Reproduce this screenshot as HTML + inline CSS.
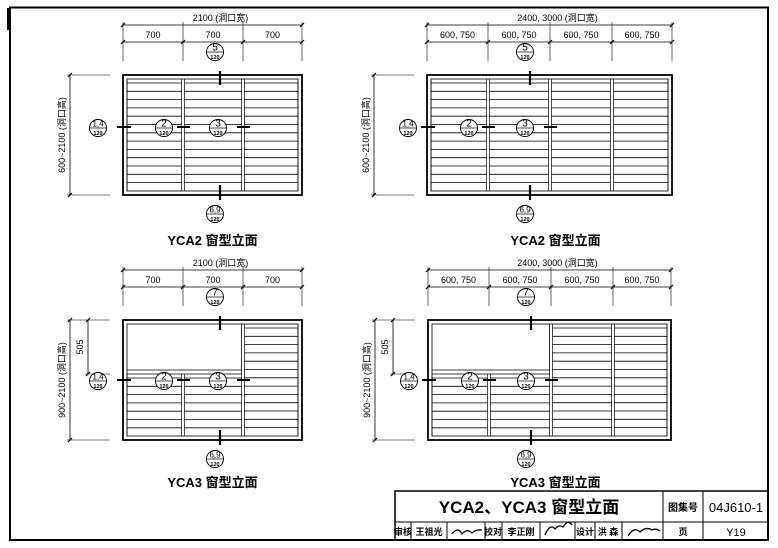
<!DOCTYPE html>
<html><head><meta charset="utf-8">
<style>
html,body{margin:0;padding:0;background:#fff;}
svg{display:block;}
text{font-family:"Liberation Sans","Noto Sans CJK SC",sans-serif;fill:#000;}
</style></head>
<body>
<svg id="s" width="778" height="548" viewBox="0 0 778 548" xmlns="http://www.w3.org/2000/svg">
<rect x="10" y="7.5" width="758" height="532.5" fill="none" stroke="#000" stroke-width="2"/>
<rect x="7" y="8" width="3" height="22" fill="#000"/>
<g stroke="#000" fill="none">
<rect x="395" y="491" width="373" height="49" stroke-width="1.5"/>
<line x1="395" y1="522" x2="768" y2="522"/>
<line x1="663" y1="491" x2="663" y2="540"/>
<line x1="703" y1="491" x2="703" y2="540"/>
<line x1="411" y1="522" x2="411" y2="540"/>
<line x1="447" y1="522" x2="447" y2="540"/>
<line x1="485" y1="522" x2="485" y2="540"/>
<line x1="502" y1="522" x2="502" y2="540"/>
<line x1="540" y1="522" x2="540" y2="540"/>
<line x1="575" y1="522" x2="575" y2="540"/>
<line x1="595" y1="522" x2="595" y2="540"/>
<line x1="622" y1="522" x2="622" y2="540"/>
</g>
<text x="529" y="513" font-size="17" font-weight="bold" text-anchor="middle">YCA2、YCA3 窗型立面</text>
<text x="683" y="511" font-size="10" font-weight="bold" text-anchor="middle">图集号</text>
<text x="736" y="512" font-size="13" text-anchor="middle" font-family="Liberation Mono">04J610-1</text>
<g font-size="9" font-weight="bold" text-anchor="middle">
<text x="403" y="535">审核</text><text x="429" y="535">王祖光</text>
<text x="493" y="535">校对</text><text x="521" y="535">李正刚</text>
<text x="585" y="535">设计</text><text x="608" y="535">洪 森</text>
<text x="683" y="535">页</text>
</g>
<text x="736" y="536" font-size="11" text-anchor="middle" font-family="Liberation Serif">Y19</text>
<g stroke="#000" fill="none" stroke-width="1.3">
<path d="M452 534 q6 -8 10 0 q5 -6 10 -1 q4 -4 10 -3"/>
<path d="M545 535 q5 -12 10 -6 q4 -5 8 -2 q5 -8 9 -2"/>
<path d="M628 536 q6 -10 12 -4 q6 -6 12 -2 q4 -2 8 1"/>
</g>
<g id="g"></g>
</svg>
<script>
var g=document.getElementById('g'),h='';
function L(x1,y1,x2,y2,w){h+='<line x1="'+x1+'" y1="'+y1+'" x2="'+x2+'" y2="'+y2+'" stroke="#000" stroke-width="'+(w||0.8)+'"/>';}
function T(x,y,s,fs,extra){h+='<text x="'+x+'" y="'+y+'" font-size="'+fs+'" text-anchor="middle" '+(extra||'')+'>'+s+'</text>';}
function tick(x,y){L(x-2,y+2,x+2,y-2,1.2);}
function bub(x,y,t){h+='<circle cx="'+x+'" cy="'+y+'" r="8.5" fill="#fff" stroke="#000" stroke-width="0.9"/>';L(x-8,y,x+8,y,0.7);T(x,y-1.5,t,t.length>1?8:10);T(x,y+7,'120',5.5,'font-weight="bold"');}
function slats(x1,x2,y1,y2){L(x1,y1,x1,y2,0.7);L(x2,y1,x2,y2,0.7);for(var y=y1+4;y<y2-2;y+=8.3)L(x1,y,x2,y,0.8);}
function diag(oy,xs,labTop,labs,vlab,yca3){
 var x0=xs[0],xn=xs[xs.length-1],y0=oy,y1=oy+120,four=xs.length==5;
 L(x0,oy-50,xn,oy-50,0.8);L(x0,oy-33,xn,oy-33,0.8);
 xs.forEach(function(x){L(x,oy-53,x,oy-14,0.6);tick(x,oy-33);});
 tick(x0,oy-50);tick(xn,oy-50);
 T((x0+xn)/2+8,oy-54,labTop,9);
 for(var i=0;i<labs.length;i++)T((xs[i]+xs[i+1])/2,oy-37,labs[i],9);
 var lx=x0-53;L(lx,y0,lx,y1,0.8);L(lx-3,y0,x0-13,y0,0.6);L(lx-3,y1,x0-13,y1,0.6);tick(lx,y0);tick(lx,y1);
 h+='<text transform="translate('+(lx-5)+','+(y0+60)+') rotate(-90)" font-size="9" text-anchor="middle">'+vlab+'</text>';
 if(yca3){var dx=x0-35;L(dx,y0,dx,y0+54,0.8);L(dx-3,y0+54,x0-13,y0+54,0.6);tick(dx,y0);tick(dx,y0+54);
  h+='<text transform="translate('+(dx-5)+','+(y0+27)+') rotate(-90)" font-size="9" text-anchor="middle">505</text>';}
 h+='<rect x="'+x0+'" y="'+y0+'" width="'+(xn-x0)+'" height="120" fill="none" stroke="#000" stroke-width="1.8"/>';
 h+='<rect x="'+(x0+4)+'" y="'+(y0+4)+'" width="'+(xn-x0-8)+'" height="112" fill="none" stroke="#000" stroke-width="0.8"/>';
 var inner=[x0+4];for(var i=1;i<xs.length-1;i++){inner.push(xs[i]-1.5);inner.push(xs[i]+1.5);}inner.push(xn-4);
 for(var i=0;i<inner.length;i+=2){
  var a=inner[i],b=inner[i+1];
  if(yca3 && i<4){
   if(i==0){var bb=inner[3];L(a,y0+50,bb,y0+50,0.8);L(a,y0+54,bb,y0+54,0.8);L(bb,y0+4,bb,y0+54,0.8);}
   slats(a,b,y0+54,y0+116);
  } else slats(a,b,y0+4,y0+116);
 }
 var cx=four?(xs[1]+xs[2])/2+8:x0+94;
 L(cx+3,y0-4,cx+3,y0+10,2.2);L(cx+3,y1-10,cx+3,y1+5,2.2);
 bub(cx-2,y0-23,yca3?'7':'5');bub(cx-2,y1+19,'6,9');
 var yy=y0+52+(yca3?8:0);
 L(x0-6,yy,x0+8,yy,2);L(xs[1]-6,yy,xs[1]+7,yy,2);L(xs[2]-6,yy,xs[2]+7,yy,2);
 bub(x0-(four?19:25),yy+1,'1,4');bub(xs[1]-19,yy+1,'2');bub(xs[2]-25,yy+1,'3');
 T((x0+xn)/2+(four?6:0),oy+(yca3?167:170),(yca3?'YCA3':'YCA2')+' 窗型立面',13,'font-weight="bold"');
}
diag(75,[123,183,243,302],'2100 (洞口宽)',['700','700','700'],'600~2100 (洞口高)',false);
diag(75,[427,488,550,612,672],'2400, 3000 (洞口宽)',['600, 750','600, 750','600, 750','600, 750'],'600~2100 (洞口高)',false);
diag(320,[123,183,243,302],'2100 (洞口宽)',['700','700','700'],'900~2100 (洞口高)',true);
diag(320,[428,489,551,613,671],'2400, 3000 (洞口宽)',['600, 750','600, 750','600, 750','600, 750'],'900~2100 (洞口高)',true);
g.innerHTML=h;
</script>
</body></html>
